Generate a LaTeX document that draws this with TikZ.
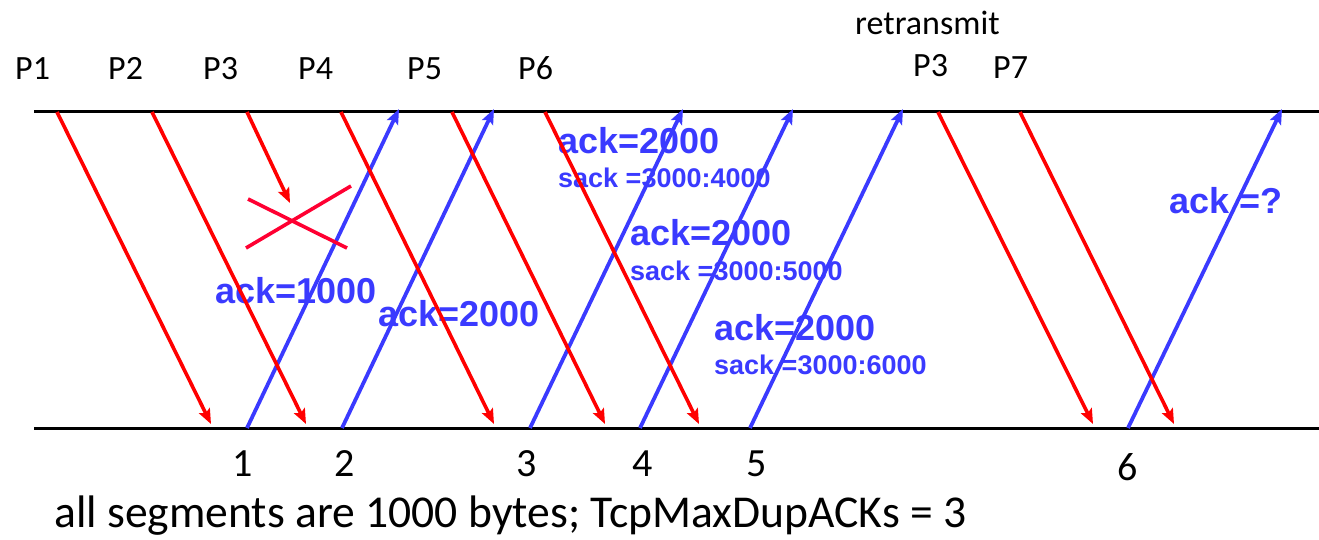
\documentclass[tikz,border=0pt]{standalone}
\usepackage{fontspec}
\setmainfont{Carlito}
\newfontfamily\arialfont{Liberation Sans}
\usetikzlibrary{arrows.meta}
\definecolor{pktred}{RGB}{255,0,0}
\definecolor{ackblue}{RGB}{58,58,255}
\definecolor{crossred}{RGB}{255,0,50}
\begin{document}
\begin{tikzpicture}[x=1pt,y=-1pt,
  timeline/.style={line width=3pt,black},
  pkt/.style={line width=3.6pt,pktred,-{Stealth[length=15pt,width=12pt,inset=3pt]}},
  ackarrow/.style={line width=3.8pt,ackblue,-{Stealth[length=15pt,width=12pt,inset=3pt]}},
  crossline/.style={line width=3.6pt,crossred},
  lbl/.style={font=\fontsize{34}{34}\selectfont,inner sep=0pt,anchor=base west},
  num/.style={font=\fontsize{40}{40}\selectfont,inner sep=0pt,anchor=base},
  ackbig/.style={font=\arialfont\bfseries\fontsize{36}{36}\selectfont,text=ackblue,inner sep=0pt,anchor=base west},
  acksmall/.style={font=\arialfont\bfseries\fontsize{27}{27}\selectfont,text=ackblue,inner sep=0pt,anchor=base west},
  note/.style={font=\fontsize{45.6}{46}\selectfont,inner sep=0pt,anchor=base west},
]
\useasboundingbox (0,0) rectangle (1319,539);

% timelines
\coordinate (tl) at (34,111.5);
\coordinate (tr) at (1319,111.5);
\coordinate (bl) at (34,428);
\coordinate (br) at (1319,428);
\draw[timeline] (tl) -- (tr);
\draw[timeline] (bl) -- (br);

% top labels
\node[lbl] (p1) at (15,79) {P1};
\node[lbl] (p2) at (108,79) {P2};
\node[lbl] (p3) at (203,79) {P3};
\node[lbl] (p4) at (298,79) {P4};
\node[lbl] (p5) at (407,79) {P5};
\node[lbl] (p6) at (518,79) {P6};
\node[lbl] (rt) at (855,34) {retransmit};
\node[lbl] (p3r) at (913,76) {P3};
\node[lbl] (p7) at (993,78) {P7};

% bottom numbers
\node[num] (n1) at (243,476) {1};
\node[num] (n2) at (345,476) {2};
\node[num] (n3) at (527,476) {3};
\node[num] (n4) at (643,476) {4};
\node[num] (n5) at (757,476) {5};
\node[num] (n6) at (1128,480) {6};

\node[note] (nt) at (54,527) {all segments are 1000 bytes; TcpMaxDupACKs = 3};

% ack labels
\node[ackbig] (a1) at (215,303) {ack=1000};
\node[ackbig] (a2) at (378,326) {ack=2000};
\node[ackbig] (a3) at (558,153) {ack=2000};
\node[acksmall] (s3) at (558,187) {sack =3000:4000};
\node[ackbig] (a4) at (630,245) {ack=2000};
\node[acksmall] (s4) at (630,280) {sack =3000:5000};
\node[ackbig] (a5) at (714,340) {ack=2000};
\node[acksmall] (s5) at (714,374) {sack =3000:6000};
\node[ackbig] (a6) at (1169,213) {ack =?};

% packet endpoints
\coordinate (d1s) at (57,112);   \coordinate (d1e) at (211,424);
\coordinate (d2s) at (152,112);  \coordinate (d2e) at (306,424);
\coordinate (d3s) at (247,112);  \coordinate (d3e) at (290,203);
\coordinate (d4s) at (341,112);  \coordinate (d4e) at (494,424);
\coordinate (d5s) at (452,112);  \coordinate (d5e) at (605,424);
\coordinate (d6s) at (545,112);  \coordinate (d6e) at (699,424);
\coordinate (d7s) at (938,112);  \coordinate (d7e) at (1093,424);
\coordinate (d8s) at (1020,112); \coordinate (d8e) at (1174,424);

% ack endpoints
\coordinate (u1s) at (247,428);  \coordinate (u1e) at (399,109);
\coordinate (u2s) at (342,428);  \coordinate (u2e) at (494,109);
\coordinate (u3s) at (530,428);  \coordinate (u3e) at (683,109);
\coordinate (u4s) at (640,428);  \coordinate (u4e) at (793,109);
\coordinate (u5s) at (750,428);  \coordinate (u5e) at (903,109);
\coordinate (u6s) at (1128,428); \coordinate (u6e) at (1282,109);

\foreach \i in {1,...,6} { \draw[ackarrow] (u\i s) -- (u\i e); }
\foreach \i in {1,...,8} { \draw[pkt] (d\i s) -- (d\i e); }

% loss cross
\coordinate (c1a) at (248,199); \coordinate (c1b) at (347,248);
\coordinate (c2a) at (246,248); \coordinate (c2b) at (351,186);
\draw[crossline] (c1a) -- (c1b);
\draw[crossline] (c2a) -- (c2b);
\end{tikzpicture}
\end{document}
